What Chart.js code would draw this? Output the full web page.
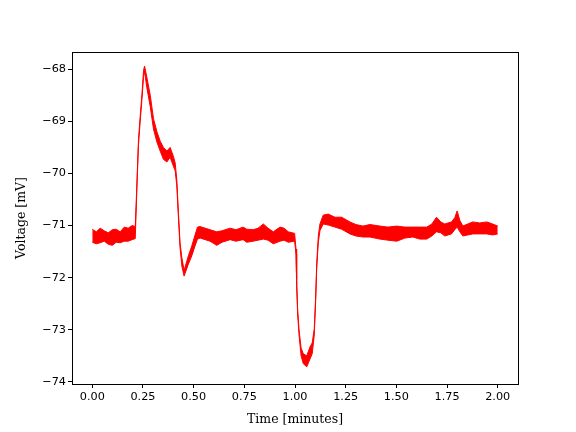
<!DOCTYPE html>
<html>
<head>
<meta charset="utf-8">
<script src="https://cdn.jsdelivr.net/npm/chart.js@4/dist/chart.umd.min.js"></script>
<style>
  html, body { margin: 0; padding: 0; background: #fff; }
  #wrap { width: 576px; height: 432px; }
</style>
</head>
<body>
<div id="wrap"><canvas id="trace" width="576" height="432"></canvas></div>
<script>
// time [minutes]
const times = [0.000, 0.020, 0.039, 0.059, 0.079, 0.099, 0.118, 0.138, 0.158, 0.177, 0.197, 0.212,
  0.220, 0.228, 0.236, 0.245, 0.253, 0.258, 0.269, 0.286, 0.302, 0.319, 0.335, 0.351, 0.368, 0.384,
  0.400, 0.409, 0.417, 0.425, 0.433, 0.442, 0.453, 0.474, 0.491, 0.507, 0.519, 0.532, 0.557, 0.581,
  0.614, 0.640, 0.680, 0.709, 0.744, 0.762, 0.793, 0.818, 0.844, 0.867, 0.893, 0.926, 0.946, 0.967,
  0.998, 1.005, 1.008, 1.013, 1.020, 1.030, 1.041, 1.058, 1.074, 1.085, 1.095, 1.102, 1.107, 1.115,
  1.123, 1.139, 1.164, 1.197, 1.230, 1.271, 1.300, 1.335, 1.369, 1.419, 1.458, 1.502, 1.542, 1.581,
  1.616, 1.650, 1.675, 1.698, 1.719, 1.739, 1.772, 1.788, 1.800, 1.813, 1.828, 1.852, 1.877, 1.911,
  1.946, 1.975, 2.000];

// upper edge of the noisy trace [mV]
const upper = [-71.07, -71.12, -71.05, -71.10, -71.14, -71.08, -71.07, -71.12, -71.03, -71.05, -71.00, -71.02,
  -70.20, -69.35, -68.92, -68.48, -68.02, -67.94, -68.15, -68.50, -68.95, -69.20, -69.38, -69.50, -69.57, -69.50,
  -69.67, -69.80, -70.12, -70.75, -71.33, -71.62, -71.86, -71.58, -71.39, -71.18, -71.03, -71.02, -71.05, -71.08,
  -71.12, -71.10, -71.05, -71.08, -71.03, -71.07, -71.08, -71.05, -70.97, -71.05, -71.12, -71.03, -71.05, -71.12,
  -71.15, -71.45, -72.03, -72.60, -73.00, -73.35, -73.46, -73.50, -73.33, -73.25, -72.98, -72.35, -71.73, -71.20,
  -70.97, -70.80, -70.78, -70.84, -70.84, -70.93, -70.98, -71.01, -70.98, -71.01, -71.03, -71.01, -71.03, -71.03,
  -71.03, -71.03, -70.97, -70.84, -70.93, -70.97, -70.93, -70.85, -70.72, -70.90, -71.01, -70.97, -70.93, -70.95,
  -70.93, -70.97, -71.01];

// lower edge of the noisy trace [mV]
const lower = [-71.32, -71.35, -71.33, -71.30, -71.36, -71.38, -71.32, -71.33, -71.30, -71.30, -71.27, -71.25,
  -70.30, -69.45, -69.02, -68.58, -68.14, -68.05, -68.35, -68.72, -69.15, -69.40, -69.57, -69.73, -69.78, -69.69,
  -69.86, -69.95, -70.24, -70.85, -71.43, -71.78, -71.97, -71.74, -71.58, -71.39, -71.26, -71.24, -71.27, -71.30,
  -71.38, -71.32, -71.27, -71.30, -71.27, -71.32, -71.30, -71.28, -71.26, -71.28, -71.35, -71.30, -71.28, -71.32,
  -71.30, -71.55, -72.13, -72.70, -73.10, -73.50, -73.65, -73.71, -73.56, -73.46, -73.10, -72.45, -71.83, -71.32,
  -71.10, -70.97, -70.99, -71.03, -71.07, -71.16, -71.20, -71.22, -71.22, -71.26, -71.28, -71.30, -71.24, -71.22,
  -71.26, -71.26, -71.20, -71.12, -71.14, -71.20, -71.16, -71.08, -71.03, -71.12, -71.20, -71.18, -71.16, -71.16,
  -71.16, -71.18, -71.16];

const xTicks = [0, 0.25, 0.5, 0.75, 1.0, 1.25, 1.5, 1.75, 2.0];
const yTicks = [-74, -73, -72, -71, -70, -69, -68];

const tickFont = { family: 'DejaVu Sans', size: 11.25 };
const titleFont = { family: 'DejaVu Serif', size: 12.5 };

// matplotlib style box around the plot area
const frame = {
  id: 'frame',
  afterDraw(chart) {
    const a = chart.chartArea, c = chart.ctx;
    c.save();
    c.strokeStyle = '#000';
    c.lineWidth = 1;
    c.strokeRect(Math.round(a.left) + 0.5, Math.round(a.top) + 0.5,
      Math.round(a.right - a.left), Math.round(a.bottom - a.top));
    c.restore();
  }
};

const upPts = times.map((t, i) => ({ x: t, y: upper[i] }));
const loPts = times.map((t, i) => ({ x: t, y: lower[i] }));

new Chart(document.getElementById('trace'), {
  type: 'line',
  data: {
    datasets: [
      { data: upPts, borderColor: '#ff0000', backgroundColor: '#ff0000', borderWidth: 1,
        pointRadius: 0, fill: '+1', tension: 0 },
      { data: loPts, borderColor: '#ff0000', backgroundColor: '#ff0000', borderWidth: 1,
        pointRadius: 0, fill: false, tension: 0 }
    ]
  },
  options: {
    responsive: false,
    animation: false,
    layout: { padding: { left: 0, right: 58, top: 52, bottom: 0 } },
    plugins: { legend: { display: false }, tooltip: { enabled: false } },
    scales: {
      x: {
        type: 'linear', min: -0.1, max: 2.1,
        afterBuildTicks: s => { s.ticks = xTicks.map(v => ({ value: v })); },
        afterFit: s => { s.height = 48; },
        ticks: { font: tickFont, color: '#000', padding: 2, maxRotation: 0,
          callback: v => v.toFixed(2) },
        grid: { drawOnChartArea: false, color: '#000', tickLength: 4 },
        border: { color: '#000' },
        title: { display: true, text: 'Time [minutes]', font: titleFont, color: '#000',
          padding: { top: 4, bottom: 4.5 } }
      },
      y: {
        min: -74.04, max: -67.67,
        afterBuildTicks: s => { s.ticks = yTicks.map(v => ({ value: v })); },
        afterFit: s => { s.width = 72; },
        ticks: { font: tickFont, color: '#000', padding: 2,
          callback: v => String(v).replace('-', '\u2212') },
        grid: { drawOnChartArea: false, color: '#000', tickLength: 4 },
        border: { color: '#000' },
        title: { display: true, text: 'Voltage [mV]', font: titleFont, color: '#000',
          padding: { top: 14.5, bottom: 4 } }
      }
    }
  },
  plugins: [frame]
});
</script>
</body>
</html>
